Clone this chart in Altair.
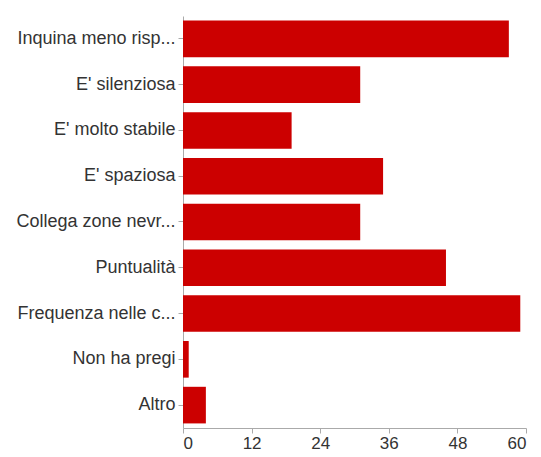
import altair as alt
import pandas as pd

categories = [
    "Inquina meno risp...",
    "E' silenziosa",
    "E' molto stabile",
    "E' spaziosa",
    "Collega zone nevr...",
    "Puntualità",
    "Frequenza nelle c...",
    "Non ha pregi",
    "Altro",
]
values = [57, 31, 19, 35, 31, 46, 59, 1, 4]
x_ticks = [0, 12, 24, 36, 48, 60]

df = pd.DataFrame({"cat": categories, "val": values})

chart = (
    alt.Chart(df)
    .mark_bar(color="#cc0000")
    .encode(
        y=alt.Y(
            "cat:N",
            sort=categories,
            title=None,
            scale=alt.Scale(paddingInner=0.2, paddingOuter=0.1),
            axis=alt.Axis(
                labelFont="Liberation Sans",
                labelFontSize=18,
                labelColor="#333333",
                labelLimit=0,
                labelPadding=3,
                tickSize=5,
                tickColor="#aaaaaa",
                domainColor="#aaaaaa",
                minExtent=175,
                maxExtent=175,
                grid=False,
            ),
        ),
        x=alt.X(
            "val:Q",
            title=None,
            scale=alt.Scale(domain=[0, 60], nice=False),
            axis=alt.Axis(
                values=x_ticks,
                labelFont="Liberation Sans",
                labelFontSize=17,
                labelColor="#333333",
                labelPadding=2,
                tickSize=5,
                tickColor="#aaaaaa",
                domainColor="#aaaaaa",
                grid=False,
            ),
        ),
    )
    .properties(
        width=343,
        height=412,
        padding={"left": 0, "top": 8, "right": 0, "bottom": 0},
    )
    .configure_view(strokeWidth=0)
)

chart.save("out.html", embed_options={"renderer": "svg", "actions": False})
